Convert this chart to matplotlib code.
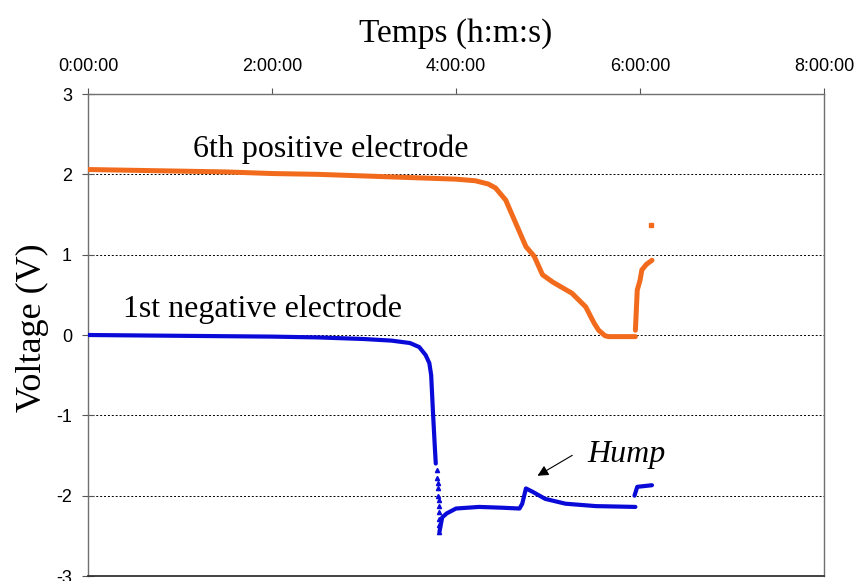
import numpy as np
import matplotlib
matplotlib.use("Agg")
import matplotlib.pyplot as plt
from matplotlib.ticker import FuncFormatter

plt.rcParams["axes.unicode_minus"] = False

# values (time in hours, voltage in V)
pos_t = [0.0, 0.5, 1.0, 1.5, 2.0, 2.5, 3.0, 3.5, 4.0, 4.21, 4.35, 4.43, 4.54, 4.65,
         4.76, 4.85, 4.94, 5.05, 5.26, 5.41, 5.50, 5.55, 5.62, 5.66, 5.95,
         np.nan, 5.95, 5.97, 6.00, 6.02, 6.07, 6.13]
pos_v = [2.06, 2.05, 2.04, 2.03, 2.01, 2.00, 1.98, 1.96, 1.94, 1.92, 1.88, 1.83, 1.68, 1.39,
         1.10, 0.98, 0.75, 0.66, 0.52, 0.35, 0.15, 0.06, -0.01, -0.02, -0.02,
         np.nan, 0.06, 0.56, 0.68, 0.81, 0.88, 0.93]
pos_lone_t = [6.12]
pos_lone_v = [1.37]

neg_t = [0.0, 1.0, 2.0, 2.5, 3.0, 3.3, 3.5, 3.6, 3.67, 3.71, 3.73, 3.75, 3.77, 3.78,
         np.nan, 3.82, 3.85, 3.90, 4.0, 4.25, 4.5, 4.69, 4.72, 4.76, 4.83, 4.97, 5.19,
         5.52, 5.95, np.nan, 5.94, 5.97, 6.05, 6.13]
neg_v = [0.0, -0.01, -0.02, -0.03, -0.05, -0.07, -0.10, -0.15, -0.25, -0.35, -0.5, -0.97,
         -1.4, -1.6, np.nan, -2.45, -2.27, -2.22, -2.16, -2.14, -2.15, -2.16, -2.10, -1.91,
         -1.95, -2.04, -2.10, -2.13, -2.14, np.nan, -2.0, -1.89, -1.88, -1.87]
# the steep drop shows as separate triangle markers
drop_t = [3.79, 3.79, 3.80, 3.80, 3.80, 3.81, 3.81, 3.81, 3.82, 3.82, 3.82]
drop_v = [-1.68, -1.78, -1.84, -1.90, -2.0, -2.06, -2.13, -2.20, -2.29, -2.37, -2.45]

x_ticks = [0, 2, 4, 6, 8]
y_ticks = [-3, -2, -1, 0, 1, 2, 3]

orange = "#F26B1D"
blue = "#0A0AD8"
serif = "Liberation Serif"
sans = "Liberation Sans"

fig = plt.figure(figsize=(8.57, 5.81), dpi=100)
ax = fig.add_axes([0.1027, 0.0086, 0.8588, 0.8296])

for y in [-2, -1, 0, 1, 2]:
    ax.axhline(y, color="black", lw=0.7, ls=(0, (2, 2)), zorder=1)

ax.plot(pos_t, pos_v, color=orange, lw=3.6, solid_capstyle="round", zorder=3)
ax.plot(pos_lone_t, pos_lone_v, "s", color=orange, ms=3, zorder=3)
ax.plot(neg_t, neg_v, color=blue, lw=3.0, solid_capstyle="round", zorder=3)
ax.plot(drop_t, drop_v, "^", color=blue, ms=3, zorder=3)

ax.set_xlim(0, 8)
ax.set_ylim(-3, 3)
ax.set_xticks(x_ticks)
ax.set_yticks(y_ticks)
ax.xaxis.set_major_formatter(FuncFormatter(lambda v, p: "%d:00:00" % v))
ax.xaxis.tick_top()
ax.xaxis.set_label_position("top")
ax.tick_params(axis="x", direction="out", length=4, width=0.8, pad=9.5,
               labelsize=13, colors="#555555", labelcolor="black")
ax.tick_params(axis="y", direction="inout", length=8, width=0.8, pad=7.5,
               labelsize=13, colors="#555555", labelcolor="black")
for t in ax.get_xticklabels() + ax.get_yticklabels():
    t.set_fontfamily(sans)

for s in ["left", "top", "right"]:
    ax.spines[s].set_color("#707070")
    ax.spines[s].set_linewidth(1.0)
ax.spines["bottom"].set_color("#333333")
ax.spines["bottom"].set_linewidth(1.3)

ax.set_xlabel("Temps (h:m:s)", fontfamily=serif, fontsize=24, labelpad=12)
ax.set_ylabel("Voltage (V)", fontfamily=serif, fontsize=26)
ax.yaxis.set_label_coords(-0.0535, 0.5145)

ax.text(1.14, 2.22, "6th positive electrode", fontfamily=serif, fontsize=23, va="baseline")
ax.text(0.38, 0.22, "1st negative electrode", fontfamily=serif, fontsize=23, va="baseline")
ax.text(5.43, -1.58, "Hump", fontfamily=serif, fontsize=23, style="italic", va="baseline")
ax.annotate("", xy=(4.86, -1.77), xytext=(5.29, -1.48),
            arrowprops=dict(arrowstyle="-|>", color="black", lw=0.8, mutation_scale=16))

fig.savefig("out.png", dpi=100)
